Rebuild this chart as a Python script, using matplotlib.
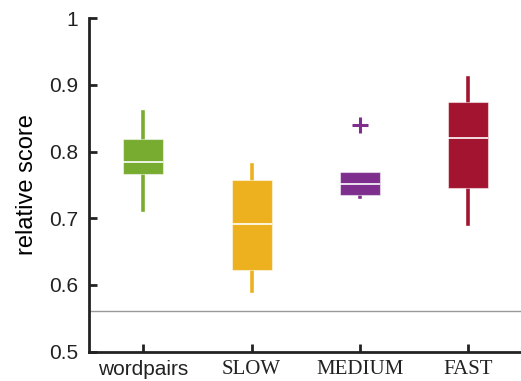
import matplotlib.pyplot as plt
import matplotlib.ticker as mticker

# data
labels = ['wordpairs', 'SLOW', 'MEDIUM', 'FAST']
whislo = [0.712, 0.591, 0.732, 0.691]
q1 = [0.766, 0.622, 0.735, 0.745]
med = [0.785, 0.691, 0.751, 0.821]
q3 = [0.819, 0.757, 0.770, 0.875]
whishi = [0.860, 0.780, 0.770, 0.910]
fliers = [[], [], [0.840], []]
colors = ['#77AC30', '#EDB120', '#7E2F8E', '#A2142F']
baseline = 0.561

stats = []
for i in range(len(labels)):
    stats.append(dict(label=labels[i], whislo=whislo[i], q1=q1[i], med=med[i],
                      q3=q3[i], whishi=whishi[i], fliers=fliers[i]))

fig = plt.figure(figsize=(5.21, 3.81), dpi=100)
ax = fig.add_axes([0.171, 0.077, 0.829, 0.875])

bp = ax.bxp(stats, widths=0.37, patch_artist=True, showcaps=False,
            medianprops=dict(color='white', lw=1.2),
            flierprops=dict(marker='+', markersize=12, markeredgewidth=2.2))
for i, c in enumerate(colors):
    bp['boxes'][i].set_facecolor(c)
    bp['boxes'][i].set_edgecolor((1, 1, 1, 0.5))
    bp['boxes'][i].set_linewidth(0.8)
    for w in bp['whiskers'][2*i:2*i+2]:
        w.set_color(c)
        w.set_linewidth(2.6)
        w.set_zorder(1)
    bp['fliers'][i].set_markeredgecolor(c)

ax.axhline(baseline, color='#999999', lw=1.0, zorder=0)

ax.set_ylim(0.5, 1.0)
ax.set_xlim(0.5, 4.488)
ax.yaxis.set_major_locator(mticker.MultipleLocator(0.1))
ax.yaxis.set_major_formatter(mticker.FuncFormatter(lambda v, p: '%g' % round(v, 2)))
ax.set_ylabel('relative score', fontsize=17, family='Liberation Sans', labelpad=8)

for s in ['top', 'right']:
    ax.spines[s].set_visible(False)
for s in ['left', 'bottom']:
    ax.spines[s].set_linewidth(2)
    ax.spines[s].set_color('#222222')

ax.tick_params(direction='in', length=6, width=2, color='#222222', labelsize=15,
               labelcolor='#222222')
ax.tick_params(axis='y', pad=8)
ax.tick_params(axis='x', pad=6)
for t in ax.get_yticklabels():
    t.set_family('Liberation Sans')
xl = ax.get_xticklabels()
for i, t in enumerate(xl):
    t.set_family('Liberation Sans' if i == 0 else 'Liberation Serif')

fig.savefig('out.png', dpi=100)
